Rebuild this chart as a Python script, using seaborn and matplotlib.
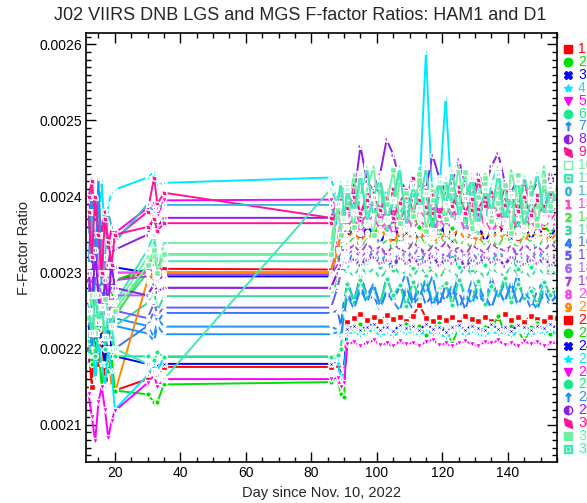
import numpy as np
import pandas as pd
import matplotlib
matplotlib.use("Agg")
import matplotlib.pyplot as plt
import seaborn as sns
from matplotlib.lines import Line2D
from matplotlib.markers import MarkerStyle
from matplotlib.transforms import Affine2D
from matplotlib.ticker import MultipleLocator, FormatStrFormatter

# days since Nov. 10, 2022 (early, mid, transition, late)
days = [12, 13, 14, 15, 16, 17, 18, 19, 20,
        30, 32, 33, 35,
        86, 88, 89, 90] + list(range(91, 156, 2))

# F-factor ratios, in units of 1e-6
s01 = [2290, 2330, 2250, 2300, 2270, 2320, 2280, 2260, 2290, 2300, 2310, 2295, 2305, 2304, 2330, 2355, 2340,
       2350, 2362, 2345, 2358, 2348, 2365, 2352, 2343, 2360, 2355, 2349,
       2368, 2351, 2346, 2359, 2363, 2347, 2356, 2370, 2350, 2344, 2361,
       2353, 2366, 2349, 2357, 2345, 2362, 2354, 2348, 2360, 2352, 2358]
s02 = [2250, 2210, 2280, 2230, 2260, 2300, 2240, 2270, 2290, 2305, 2300, 2290, 2300, 2300, 2340, 2360, 2350,
       2365, 2350, 2372, 2358, 2345, 2368, 2380, 2355, 2362, 2348, 2375,
       2360, 2352, 2370, 2346, 2366, 2358, 2374, 2350, 2362, 2355, 2368,
       2345, 2372, 2360, 2353, 2366, 2349, 2371, 2357, 2364, 2351, 2368]
s03 = [2270, 2320, 2240, 2290, 2230, 2280, 2300, 2310, 2307, 2300, 2295, 2290, 2295, 2295, 2330, 2350, 2345,
       2345, 2358, 2340, 2362, 2350, 2338, 2355, 2366, 2344, 2352, 2360,
       2341, 2357, 2348, 2364, 2350, 2342, 2359, 2353, 2347, 2363, 2340,
       2356, 2349, 2361, 2345, 2354, 2366, 2343, 2358, 2351, 2347, 2360]
s04 = [2350, 2380, 2300, 2360, 2420, 2340, 2390, 2405, 2409, 2425, 2432, 2415, 2418, 2425, 2390, 2405, 2380,
       2385, 2400, 2378, 2395, 2405, 2382, 2410, 2390, 2376, 2398, 2388,
       2408, 2590, 2392, 2400, 2530, 2385, 2402, 2380, 2396, 2408, 2384,
       2399, 2390, 2412, 2386, 2400, 2392, 2405, 2388, 2398, 2410, 2394]
s05 = [2395, 2370, 2340, 2330, 2360, 2380, 2340, 2350, 2352, 2385, 2390, 2375, 2395, 2396, 2385, 2370, 2380,
       2375, 2390, 2368, 2385, 2395, 2372, 2388, 2380, 2365, 2392, 2378,
       2386, 2370, 2396, 2382, 2374, 2390, 2366, 2384, 2393, 2376, 2388,
       2369, 2381, 2395, 2373, 2387, 2379, 2391, 2370, 2384, 2377, 2389]
s06 = [2240, 2260, 2220, 2280, 2250, 2230, 2270, 2255, 2245, 2300, 2310, 2295, 2324, 2324, 2320, 2310, 2305,
       2310, 2318, 2305, 2314, 2322, 2308, 2316, 2303, 2320, 2312, 2306,
       2319, 2311, 2304, 2317, 2309, 2321, 2307, 2315, 2302, 2318, 2310,
       2306, 2316, 2312, 2320, 2305, 2313, 2308, 2317, 2311, 2304, 2315]
s07 = [2300, 2426, 2250, 2380, 2200, 2260, 2300, 2230, 2240, 2230, 2215, 2240, 2229, 2229, 2225, 2216, 2260,
       2290, 2262, 2298, 2270, 2285, 2258, 2295, 2265, 2280, 2300, 2260,
       2288, 2272, 2296, 2256, 2284, 2268, 2299, 2262, 2290, 2275, 2258,
       2294, 2266, 2286, 2270, 2298, 2260, 2282, 2274, 2292, 2264, 2280]
s08 = [2380, 2300, 2350, 2260, 2330, 2290, 2310, 2340, 2330, 2350, 2375, 2360, 2372, 2372, 2390, 2400, 2410,
       2415, 2400, 2466, 2420, 2408, 2430, 2475, 2455, 2420, 2410, 2395,
       2420, 2410, 2455, 2425, 2405, 2418, 2450, 2415, 2400, 2430, 2412,
       2440, 2457, 2420, 2405, 2425, 2410, 2398, 2422, 2408, 2430, 2415]
s09 = [2400, 2420, 2370, 2390, 2350, 2380, 2334, 2360, 2345, 2380, 2425, 2390, 2405, 2372, 2395, 2410, 2380,
       2390, 2415, 2375, 2405, 2395, 2420, 2380, 2410, 2370, 2400, 2425,
       2385, 2408, 2378, 2418, 2392, 2372, 2412, 2398, 2382, 2422, 2388,
       2406, 2376, 2414, 2395, 2383, 2420, 2390, 2402, 2378, 2416, 2396]
s10 = [2250, 2230, 2270, 2240, 2260, 2250, 2280, 2235, 2255, 2320, 2340, 2300, 2339, 2339, 2400, 2370, 2420,
       2380, 2430, 2350, 2410, 2440, 2360, 2400, 2345, 2425, 2390, 2355,
       2438, 2370, 2415, 2350, 2420, 2385, 2440, 2360, 2405, 2345, 2430,
       2375, 2412, 2352, 2435, 2395, 2360, 2420, 2380, 2440, 2365, 2410]
s11 = [2230, 2260, 2240, 2210, 2250, 2270, 2225, 2245, 2260, 2330, 2350, 2310, 2315, 2315, 2380, 2420, 2360,
       2420, 2360, 2400, 2440, 2370, 2415, 2350, 2395, 2435, 2365, 2410,
       2380, 2440, 2355, 2405, 2425, 2368, 2398, 2345, 2430, 2385, 2360,
       2418, 2440, 2372, 2400, 2350, 2428, 2390, 2362, 2415, 2375, 2420]
s12 = [2270, 2380, 2300, 2410, 2250, 2320, 2380, 2360, 2340, 2390, 2380, 2385, 2389, 2389, 2360, 2340, 2320,
       2318, 2325, 2312, 2322, 2330, 2315, 2324, 2310, 2320, 2328, 2316,
       2323, 2311, 2326, 2319, 2313, 2327, 2317, 2322, 2309, 2325, 2318,
       2314, 2328, 2320, 2312, 2324, 2316, 2321, 2330, 2314, 2319, 2323]
s13 = [2200, 2250, 2180, 2300, 2350, 2270, 2220, 2290, 2300, 2300, 2290, 2310, 2300, 2300, 2340, 2370, 2360,
       2370, 2385, 2362, 2378, 2390, 2368, 2382, 2360, 2376, 2388, 2365,
       2380, 2372, 2392, 2363, 2379, 2386, 2367, 2383, 2370, 2389, 2361,
       2377, 2384, 2366, 2381, 2373, 2390, 2364, 2378, 2385, 2369, 2380]
s14 = [2260, 2240, 2280, 2230, 2270, 2250, 2220, 2265, 2240, 2310, 2320, 2305, 2324, 2324, 2330, 2345, 2340,
       2338, 2346, 2333, 2344, 2350, 2336, 2342, 2331, 2348, 2340, 2334,
       2347, 2339, 2332, 2345, 2341, 2349, 2335, 2343, 2330, 2346, 2337,
       2344, 2333, 2350, 2339, 2335, 2347, 2341, 2332, 2345, 2338, 2343]
s15 = [2220, 2250, 2200, 2240, 2260, 2215, 2235, 2250, 2230, 2260, 2275, 2250, 2269, 2269, 2290, 2300, 2295,
       2302, 2296, 2308, 2298, 2305, 2292, 2303, 2310, 2297, 2301, 2294,
       2307, 2299, 2304, 2291, 2306, 2300, 2295, 2309, 2297, 2303, 2293,
       2305, 2300, 2296, 2308, 2298, 2302, 2294, 2306, 2299, 2304, 2297]
s16 = [2180, 2220, 2160, 2200, 2230, 2170, 2210, 2190, 2200, 2230, 2250, 2235, 2247, 2247, 2250, 2230, 2265,
       2275, 2255, 2282, 2262, 2270, 2250, 2278, 2260, 2285, 2266, 2252,
       2280, 2258, 2272, 2256, 2284, 2264, 2276, 2251, 2281, 2263, 2270,
       2254, 2279, 2261, 2286, 2257, 2273, 2253, 2277, 2265, 2259, 2274]
s17 = [2240, 2200, 2260, 2220, 2250, 2210, 2230, 2245, 2250, 2240, 2260, 2245, 2254, 2254, 2280, 2300, 2310,
       2316, 2322, 2312, 2320, 2326, 2314, 2319, 2310, 2324, 2317, 2313,
       2323, 2318, 2311, 2321, 2325, 2315, 2320, 2312, 2322, 2316, 2327,
       2313, 2319, 2310, 2324, 2317, 2314, 2321, 2318, 2312, 2323, 2316]
s18 = [2230, 2270, 2210, 2250, 2200, 2280, 2240, 2260, 2270, 2270, 2285, 2275, 2280, 2280, 2300, 2315, 2320,
       2324, 2330, 2320, 2328, 2318, 2332, 2322, 2326, 2316, 2329, 2321,
       2334, 2319, 2327, 2323, 2317, 2331, 2325, 2320, 2328, 2315, 2326,
       2330, 2318, 2324, 2333, 2321, 2327, 2316, 2329, 2322, 2326, 2320]
s19 = [2290, 2250, 2310, 2270, 2230, 2300, 2260, 2280, 2290, 2295, 2300, 2290, 2297, 2297, 2310, 2325, 2330,
       2330, 2336, 2326, 2338, 2329, 2334, 2324, 2337, 2331, 2327, 2339,
       2333, 2325, 2335, 2330, 2340, 2328, 2333, 2323, 2336, 2331, 2326,
       2338, 2332, 2329, 2335, 2324, 2337, 2330, 2334, 2327, 2339, 2331]
s20 = [2310, 2260, 2330, 2290, 2250, 2300, 2270, 2320, 2300, 2300, 2305, 2295, 2300, 2300, 2330, 2355, 2350,
       2360, 2372, 2352, 2366, 2375, 2355, 2368, 2350, 2364, 2374, 2357,
       2369, 2361, 2351, 2373, 2358, 2366, 2376, 2354, 2365, 2360, 2371,
       2353, 2367, 2359, 2374, 2356, 2363, 2370, 2352, 2368, 2361, 2365]
s21 = [2250, 2200, 2240, 2180, 2220, 2160, 2190, 2150, 2142, 2290, 2300, 2295, 2300, 2300, 2330, 2350, 2345,
       2346, 2354, 2340, 2352, 2344, 2357, 2348, 2338, 2355, 2345, 2350,
       2342, 2358, 2347, 2341, 2353, 2349, 2356, 2343, 2351, 2339, 2354,
       2346, 2352, 2344, 2357, 2348, 2340, 2355, 2347, 2350, 2342, 2353]
s22 = [2200, 2150, 2250, 2180, 2220, 2160, 2200, 2170, 2145, 2160, 2175, 2165, 2176, 2176, 2178, 2170, 2175,
       2235, 2240, 2245, 2238, 2242, 2236, 2244, 2239, 2241, 2237, 2243,
       2258, 2240, 2236, 2242, 2238, 2241, 2235, 2243, 2239, 2237, 2242,
       2236, 2240, 2245, 2238, 2241, 2235, 2243, 2239, 2237, 2242, 2240]
s23 = [2230, 2180, 2250, 2200, 2150, 2210, 2170, 2190, 2145, 2140, 2130, 2130, 2153, 2156, 2160, 2140, 2137,
       2228, 2224, 2232, 2220, 2229, 2225, 2231, 2221, 2227, 2233, 2222,
       2230, 2218, 2226, 2234, 2223, 2207, 2228, 2224, 2231, 2220, 2229,
       2226, 2243, 2222, 2230, 2225, 2209, 2228, 2234, 2223, 2219, 2227]
s24 = [2220, 2260, 2190, 2240, 2210, 2180, 2230, 2200, 2190, 2180, 2185, 2178, 2180, 2180, 2182, 2165, 2175,
       2226, 2230, 2224, 2229, 2232, 2225, 2228, 2223, 2231, 2227, 2230,
       2224, 2233, 2226, 2229, 2222, 2228, 2231, 2225, 2230, 2227, 2224,
       2232, 2226, 2229, 2223, 2231, 2228, 2225, 2230, 2227, 2232, 2226]
s25 = [2190, 2230, 2160, 2210, 2180, 2150, 2200, 2170, 2120, 2165, 2180, 2170, 2190, 2190, 2185, 2160, 2170,
       2218, 2222, 2216, 2221, 2224, 2217, 2220, 2215, 2223, 2219, 2222,
       2216, 2225, 2218, 2221, 2214, 2220, 2223, 2217, 2222, 2219, 2216,
       2224, 2218, 2221, 2215, 2223, 2220, 2217, 2222, 2219, 2224, 2218]
s26 = [2140, 2110, 2078, 2130, 2150, 2120, 2082, 2105, 2118, 2155, 2165, 2150, 2160, 2160, 2162, 2150, 2155,
       2206, 2209, 2204, 2208, 2211, 2205, 2207, 2203, 2210, 2206, 2208,
       2204, 2209, 2212, 2205, 2207, 2203, 2208, 2210, 2206, 2204, 2209,
       2207, 2211, 2205, 2208, 2203, 2210, 2206, 2209, 2204, 2207, 2208]
s27 = [2210, 2240, 2190, 2225, 2250, 2200, 2230, 2215, 2190, 2190, 2185, 2195, 2189, 2189, 2192, 2200, 2250,
       2285, 2262, 2290, 2268, 2280, 2258, 2292, 2270, 2284, 2256, 2288,
       2266, 2295, 2260, 2278, 2286, 2257, 2290, 2272, 2263, 2289, 2259,
       2282, 2270, 2293, 2261, 2285, 2267, 2276, 2258, 2288, 2271, 2280]
s28 = [2260, 2200, 2300, 2426, 2280, 2240, 2210, 2250, 2230, 2220, 2210, 2230, 2219, 2219, 2222, 2216, 2245,
       2270, 2252, 2278, 2260, 2286, 2255, 2274, 2262, 2250, 2281, 2258,
       2268, 2290, 2256, 2276, 2263, 2284, 2253, 2271, 2259, 2280, 2266,
       2254, 2279, 2261, 2288, 2257, 2273, 2264, 2251, 2277, 2260, 2269]
s29 = [2300, 2250, 2330, 2270, 2240, 2290, 2260, 2310, 2280, 2270, 2285, 2275, 2280, 2280, 2300, 2310, 2312,
       2314, 2318, 2310, 2317, 2321, 2312, 2316, 2309, 2319, 2313, 2320,
       2311, 2315, 2322, 2310, 2317, 2313, 2319, 2308, 2316, 2312, 2320,
       2314, 2318, 2309, 2321, 2315, 2311, 2317, 2313, 2319, 2310, 2316]
s30 = [2380, 2320, 2400, 2350, 2300, 2370, 2340, 2310, 2350, 2360, 2370, 2355, 2365, 2365, 2380, 2395, 2385,
       2385, 2400, 2378, 2395, 2405, 2382, 2398, 2372, 2392, 2408, 2380,
       2396, 2386, 2402, 2375, 2394, 2388, 2406, 2379, 2397, 2384, 2400,
       2374, 2393, 2389, 2404, 2381, 2399, 2376, 2395, 2387, 2403, 2390]
s31 = [2240, 2270, 2220, 2255, 2235, 2265, 2245, 2230, 2250, 2310, 2330, 2300, 2324, 2324, 2390, 2350, 2410,
       2400, 2360, 2425, 2380, 2350, 2415, 2390, 2435, 2365, 2405, 2375,
       2430, 2355, 2395, 2420, 2370, 2410, 2385, 2432, 2358, 2400, 2425,
       2368, 2392, 2415, 2352, 2428, 2380, 2405, 2362, 2420, 2388, 2410]
s32 = [2250, 2220, 2270, 2235, 2255, 2215, 2245, 2230, 2200, 2180, 2170, 2165, 2160, 2410, 2390, 2420, 2370,
       2410, 2380, 2430, 2365, 2400, 2425, 2370, 2395, 2440, 2360, 2415,
       2385, 2405, 2355, 2420, 2390, 2435, 2372, 2398, 2425, 2362, 2410,
       2380, 2430, 2368, 2402, 2420, 2358, 2395, 2432, 2375, 2412, 2390]

series = [s01, s02, s03, s04, s05, s06, s07, s08, s09, s10, s11, s12, s13, s14, s15, s16,
          s17, s18, s19, s20, s21, s22, s23, s24, s25, s26, s27, s28, s29, s30, s31, s32]
labels = [str(i) for i in range(1, 33)]

base_colors = ['#ff0000', '#00e000', '#0000ff', '#00e8ff', '#ff00ff', '#1ee68c',
               '#1e90ff', '#8c1ee6', '#ff1493', '#70f0a0', '#40e8b8']
digit_colors = ['#3cb4dc', '#ff44cc', '#55dd55', '#33dd99', '#3377ff', '#6a5aff',
                '#aa66ff', '#aa44dd', '#ff44ee', '#ff8800']
colors = base_colors + digit_colors + base_colors

slant = MarkerStyle('d', transform=Affine2D().rotate_deg(40))
half = MarkerStyle('o', fillstyle='left')
base_markers = ['s', 'o', 'X', '*', 'v', 'o', r'$\uparrow$', half, slant, 's', r'$\boxdot$']
digit_markers = ['$%d$' % d for d in range(10)]
markers = base_markers + digit_markers + base_markers

sns.set_style('ticks')
plt.rcParams['font.family'] = ['Liberation Sans', 'DejaVu Sans']

fig = plt.figure(figsize=(5.87, 5.03), dpi=100)
ax = fig.add_axes([0.1465, 0.0815, 0.8024, 0.8529])

for i, vals in enumerate(series):
    df = pd.DataFrame({'day': days, 'ratio': np.array(vals) / 1e6})
    mk = markers[i]
    extra = {}
    if isinstance(mk, str) and mk == 's' and i % 11 == 9:
        extra['fillstyle'] = 'none'
    sns.lineplot(data=df, x='day', y='ratio', ax=ax, color=colors[i], marker=mk,
                 markersize=4, markeredgewidth=1.0, linewidth=1.4, sort=False,
                 estimator=None, legend=False, **extra)

ax.set_xlim(11.2, 155)
ax.set_ylim(0.002051, 0.002615)
ax.xaxis.set_major_locator(MultipleLocator(20))
ax.xaxis.set_minor_locator(MultipleLocator(5))
ax.yaxis.set_major_locator(MultipleLocator(0.0001))
ax.yaxis.set_minor_locator(MultipleLocator(0.00001))
ax.yaxis.set_major_formatter(FormatStrFormatter('%.4f'))
ax.tick_params(which='both', direction='in', top=True, right=True, colors='black',
               labelsize=10, width=1.0)
ax.tick_params(which='major', length=7, pad=3)
ax.tick_params(which='minor', length=3.5)
for sp in ax.spines.values():
    sp.set_linewidth(1.2)
    sp.set_color('black')

ax.set_xlabel('Day since Nov. 10, 2022', fontsize=10.5)
ax.set_ylabel('F-Factor Ratio', fontsize=10.5)
ax.xaxis.set_label_coords(0.5, -0.055)
ax.yaxis.set_label_coords(-0.117, 0.5)

fig.text(300 / 587, 1 - 16 / 503, 'J02 VIIRS DNB LGS and MGS F-factor Ratios: HAM1 and D1',
         ha='center', va='center', fontsize=13)

# legend column at the right edge (text is cut by the figure border, as in the original)
for i in range(32):
    yy = 1 - (49 + 12.9 * i) / 503
    mk = markers[i]
    extra = {}
    if isinstance(mk, str) and mk == 's' and i % 11 == 9:
        extra['fillstyle'] = 'none'
    fig.add_artist(Line2D([568 / 587], [yy], transform=fig.transFigure, marker=mk,
                          color=colors[i], markersize=6, linestyle='none', **extra))
    fig.text(578 / 587, yy, labels[i], color=colors[i], fontsize=10, ha='left', va='center')

fig.savefig('out.png', dpi=100)
